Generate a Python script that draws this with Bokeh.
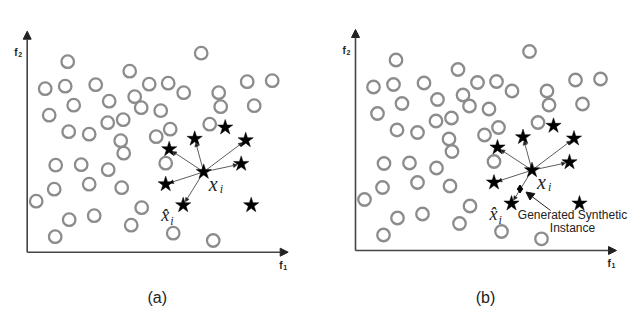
import numpy as np
from bokeh.plotting import figure
from bokeh.models import Arrow, NormalHead, ColumnDataSource, Range1d
from bokeh.core.properties import value
from bokeh.embed import file_html
from bokeh.resources import INLINE

# ---- data (feature space f1 / f2, same in both panels) ----
majority_f1 = [174, 40.5, 102.5, 18, 38, 68.5, 122, 141, 156.5, 191.5, 220, 245,
               46.5, 82, 107.5, 114, 133.5, 193.5, 227, 22, 80.5, 96, 41.5, 62,
               143, 129, 182.5, 93.5, 96.5, 28.5, 54, 81, 138.5, 27, 62, 94.5,
               9, 114.5, 42, 67, 104, 28, 146, 186]
majority_f2 = [199, 190.5, 181, 163.5, 166, 167.5, 168, 169, 159.5, 159.5, 170.5, 171.5,
               147, 151, 155.5, 144.5, 141.5, 145.5, 146.5, 137, 129.5, 132.5, 120.5, 118,
               123, 115.5, 128, 111.5, 99, 87, 87.5, 82.5, 89, 63, 68, 64.5,
               51, 44.5, 32.5, 36.5, 27, 15.5, 19, 11.7]
xi_f1, xi_f2 = 176.5, 80.3
neighbor_f1 = [142, 167.5, 218.5, 214, 138.5, 156]
neighbor_f2 = [103, 113.4, 112, 88.3, 68, 47]
other_minority_f1 = [198, 224]
other_minority_f2 = [124.7, 47]
xhat_index = 5          # the chosen neighbour  \hat{x}_i
synthetic_f1, synthetic_f2 = 164.5, 61.5
axis_len_f1, axis_len_f2 = 261, 221

# ---- layout (panel origins on the page) ----
W, H = 640, 314
panels = {"(a)": (26.7, 62.3, False), "(b)": (355.0, 64.0, True)}

p = figure(width=W, height=H, x_range=Range1d(0, W), y_range=Range1d(0, H),
           output_backend="svg", toolbar_location=None, min_border=0)
p.axis.visible = False
p.grid.visible = False
p.outline_line_color = None
p.background_fill_color = "white"
p.border_fill_color = "white"

serif = value("Liberation Serif")
sans = value("Liberation Sans")

for cap, (ox, oy, synth) in panels.items():
    # axes with arrow heads
    for xe, ye in [(ox + axis_len_f1, oy), (ox, oy + axis_len_f2)]:
        p.add_layout(Arrow(x_start=ox, y_start=oy, x_end=xe, y_end=ye,
                           line_color="#444444", line_width=1.6,
                           end=NormalHead(size=8, fill_color="#222222",
                                          line_color="#222222")))
    # axis labels f1 / f2
    p.text(x=[ox + 252, ox - 13], y=[oy - 13, oy + 200], text=["f", "f"],
           text_font=sans, text_font_size="10px", text_font_style="bold",
           text_color="#222222", text_align="left", text_baseline="middle")
    p.text(x=[ox + 256, ox - 9], y=[oy - 15, oy + 198], text=["1", "2"],
           text_font=sans, text_font_size="7px", text_font_style="bold",
           text_color="#222222", text_align="left", text_baseline="middle")

    # neighbour arrows
    nx = np.array(neighbor_f1) + ox
    ny = np.array(neighbor_f2) + oy
    cx, cy = xi_f1 + ox, xi_f2 + oy
    dx, dy = nx - cx, ny - cy
    d = np.hypot(dx, dy)
    ex, ey = nx - dx / d * 4, ny - dy / d * 4
    src = ColumnDataSource(dict(xs=[cx] * len(nx), ys=[cy] * len(nx), xe=ex, ye=ey))
    p.add_layout(Arrow(x_start="xs", y_start="ys", x_end="xe", y_end="ye", source=src,
                       line_color="#333333", line_width=0.8, level="underlay",
                       end=NormalHead(size=4, fill_color="#222222",
                                      line_color="#222222", line_width=0.5)))

    # majority class (circles)
    p.scatter(x=np.array(majority_f1) + ox, y=np.array(majority_f2) + oy,
              marker="circle", size=12.5, fill_color=None,
              line_color="#8c8c8c", line_width=2.3)

    # minority class (stars)
    sx = np.concatenate([[xi_f1], neighbor_f1, other_minority_f1]) + ox
    sy = np.concatenate([[xi_f2], neighbor_f2, other_minority_f2]) + oy
    p.scatter(x=sx, y=sy, marker="star", size=16, fill_color="black",
              line_color="black", line_width=0.5)

    # labels x_i and \hat{x}_i
    p.text(x=[cx + 5], y=[cy - 12], text=["x"], text_font=serif,
           text_font_style="italic", text_font_size="20px",
           text_align="left", text_baseline="middle", text_color="#222222")
    p.text(x=[cx + 16], y=[cy - 17], text=["i"], text_font=serif,
           text_font_style="italic", text_font_size="12px",
           text_align="left", text_baseline="middle", text_color="#222222")
    hx = neighbor_f1[xhat_index] + ox
    hy = neighbor_f2[xhat_index] + oy
    p.text(x=[hx - 22], y=[hy - 10], text=["x\u0302"], text_font=serif,
           text_font_style="italic", text_font_size="18px",
           text_align="left", text_baseline="middle", text_color="#222222")
    p.text(x=[hx - 13], y=[hy - 16], text=["i"], text_font=serif,
           text_font_style="italic", text_font_size="12px",
           text_align="left", text_baseline="middle", text_color="#222222")

    if synth:
        sxp, syp = synthetic_f1 + ox, synthetic_f2 + oy
        p.scatter(x=[sxp], y=[syp], marker="diamond", size=8, fill_color="black",
                  line_color="black")
        p.add_layout(Arrow(x_start=ox + 195, y_start=oy + 40,
                           x_end=sxp + 6, y_end=syp - 3,
                           line_color="#222222", line_width=1,
                           end=NormalHead(size=8, fill_color="#111111",
                                          line_color="#111111")))
        p.text(x=[ox + 217, ox + 217], y=[oy + 36, oy + 22.5],
               text=["Generated Synthetic", "Instance"], text_font=sans,
               text_font_size="12px", text_align="center",
               text_baseline="middle", text_color="#222222")

    # caption
    p.text(x=[ox + 130], y=[H - 297], text=[cap], text_font=sans,
           text_font_size="16px", text_align="center", text_baseline="middle",
           text_color="#222222")

open("out.html", "w").write(file_html(p, INLINE))
